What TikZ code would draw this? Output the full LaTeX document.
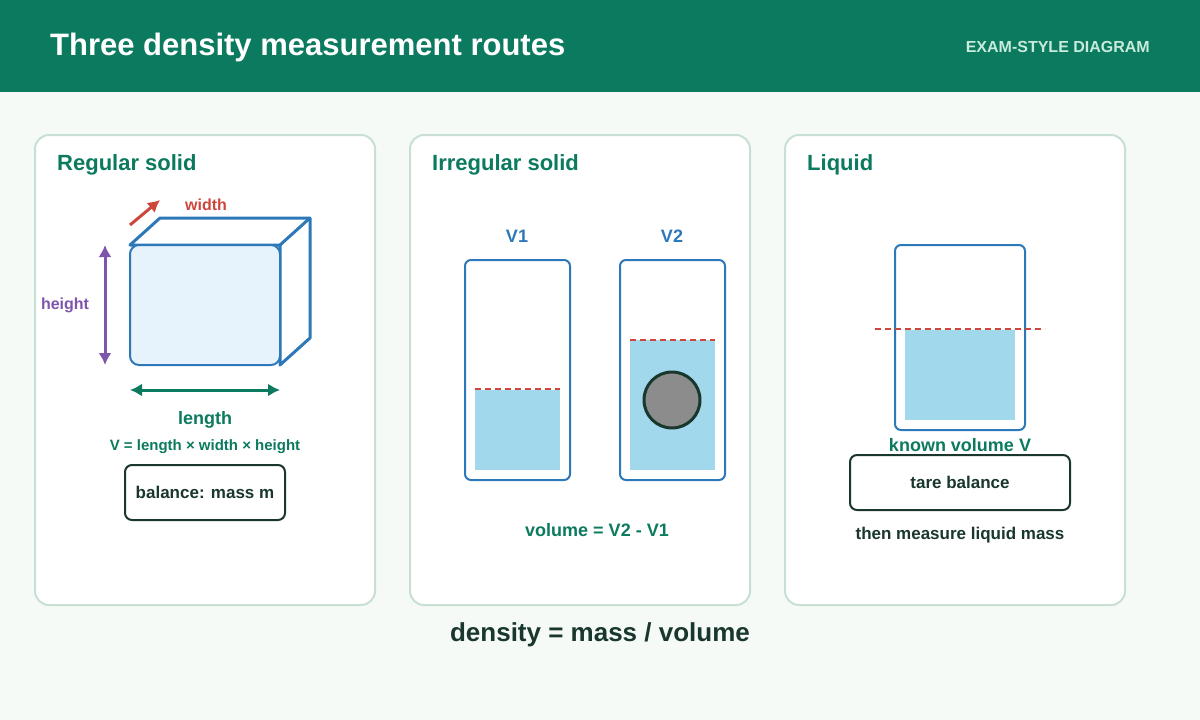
\documentclass[tikz,border=0pt]{standalone}
\usepackage{fontspec}
\setmainfont{Liberation Sans}
\usetikzlibrary{arrows.meta}
\begin{document}
\definecolor{hdr}{RGB}{11,122,94}
\definecolor{bg}{RGB}{245,250,247}
\definecolor{pb}{RGB}{200,224,212}
\definecolor{grn}{RGB}{11,122,94}
\definecolor{blu}{RGB}{45,120,185}
\definecolor{cube}{RGB}{230,242,252}
\definecolor{red1}{RGB}{205,70,60}
\definecolor{pur}{RGB}{125,85,170}
\definecolor{dk}{RGB}{25,55,45}
\definecolor{wat}{RGB}{162,216,236}
\definecolor{sub}{RGB}{200,235,220}
\begin{tikzpicture}[x=1pt,y=-1pt,inner sep=0pt,
  panel/.style={draw=pb,line width=2pt,fill=white,rounded corners=14pt},
  ptitle/.style={anchor=west,text=grn,font=\fontsize{22}{26}\selectfont\bfseries},
  tube/.style={draw=blu,line width=2pt,rounded corners=6pt},
  water/.style={fill=wat,draw=none},
  lvl/.style={draw=red1,line width=2pt,dash pattern=on 6pt off 4pt},
  box/.style={draw=dk,line width=2pt,rounded corners=7pt,fill=white},
  arr/.style={line width=3pt,-{Latex[length=12pt,width=13pt]}},
  darr/.style={line width=3pt,{Latex[length=12pt,width=13pt]}-{Latex[length=12pt,width=13pt]}},
  lbl/.style={font=\fontsize{17}{20}\selectfont\bfseries},
  big/.style={font=\fontsize{18}{21}\selectfont\bfseries}]
\useasboundingbox (0,0) rectangle (1200,720);
\fill[bg] (0,0) rectangle (1200,720);
\fill[hdr] (0,0) rectangle (1200,92);
\node[anchor=west,text=white,font=\fontsize{31}{35}\selectfont\bfseries] (title) at (50,47) {Three density measurement routes};
\node[anchor=east,text=sub,font=\fontsize{16}{18}\selectfont\bfseries] (tag) at (1150,47) {EXAM-STYLE DIAGRAM};
\draw[panel] (35,135) rectangle (375,605);
\draw[panel] (410,135) rectangle (750,605);
\draw[panel] (785,135) rectangle (1125,605);
\node[ptitle] (t1) at (57,165) {Regular solid};
\node[ptitle] (t2) at (432,165) {Irregular solid};
\node[ptitle] (t3) at (807,165) {Liquid};
% cube
\draw[blu,line width=3pt,fill=white,line join=round] (130,245) -- (160,218) -- (310,218) -- (310,338) -- (280,365) -- (280,245) -- cycle;
\draw[blu,line width=3pt] (280,245) -- (310,218);
\draw[blu,line width=2pt,fill=cube,rounded corners=9pt] (130,245) rectangle (280,365);
\coordinate (w1) at (130,225); \coordinate (w2) at (160,200);
\draw[red1,arr] (w1) -- (w2);
\node[big,text=red1,font=\fontsize{16}{18}\selectfont\bfseries] (wl) at (206,205) {width};
\coordinate (h1) at (105,245); \coordinate (h2) at (105,365);
\draw[pur,darr] (h1) -- (h2);
\node[text=pur,font=\fontsize{16}{18}\selectfont\bfseries] (hl) at (65,305) {height};
\coordinate (l1) at (130,390); \coordinate (l2) at (280,390);
\draw[grn,darr] (l1) -- (l2);
\node[big,text=grn] (ll) at (205,420) {length};
\node[text=grn,font=\fontsize{15}{18}\selectfont\bfseries] (vf) at (205,447) {V = length × width × height};
\draw[box] (125,465) rectangle (285,520);
\node[lbl,text=dk] (bal) at (205,492) {balance: mass m};
% irregular
\node[big,text=blu] (v1) at (517,236) {V1};
\node[big,text=blu] (v2) at (672,236) {V2};
\fill[water] (475,390) rectangle (560,470);
\draw[lvl] (475,389) -- (560,389);
\draw[tube] (465,260) rectangle (570,480);
\fill[water] (630,340) rectangle (715,470);
\draw[lvl] (630,340) -- (715,340);
\draw[tube] (620,260) rectangle (725,480);
\draw[dk,line width=3pt,fill=black!45] (672,400) circle (28);
\node[big,text=grn] (vol) at (597,530) {volume = V2 - V1};
% liquid
\fill[water] (905,330) rectangle (1015,420);
\draw[tube] (895,245) rectangle (1025,430);
\draw[lvl] (875,329) -- (1045,329);
\node[big,text=grn] (kv) at (960,445) {known volume V};
\draw[box] (850,455) rectangle (1070,510);
\node[lbl,text=dk] (tare) at (960,482) {tare balance};
\node[lbl,text=dk] (then) at (960,535) {then measure liquid mass};
\node[text=dk,font=\fontsize{26}{30}\selectfont\bfseries] (dens) at (600,635) {density = mass / volume};
\end{tikzpicture}
\end{document}
